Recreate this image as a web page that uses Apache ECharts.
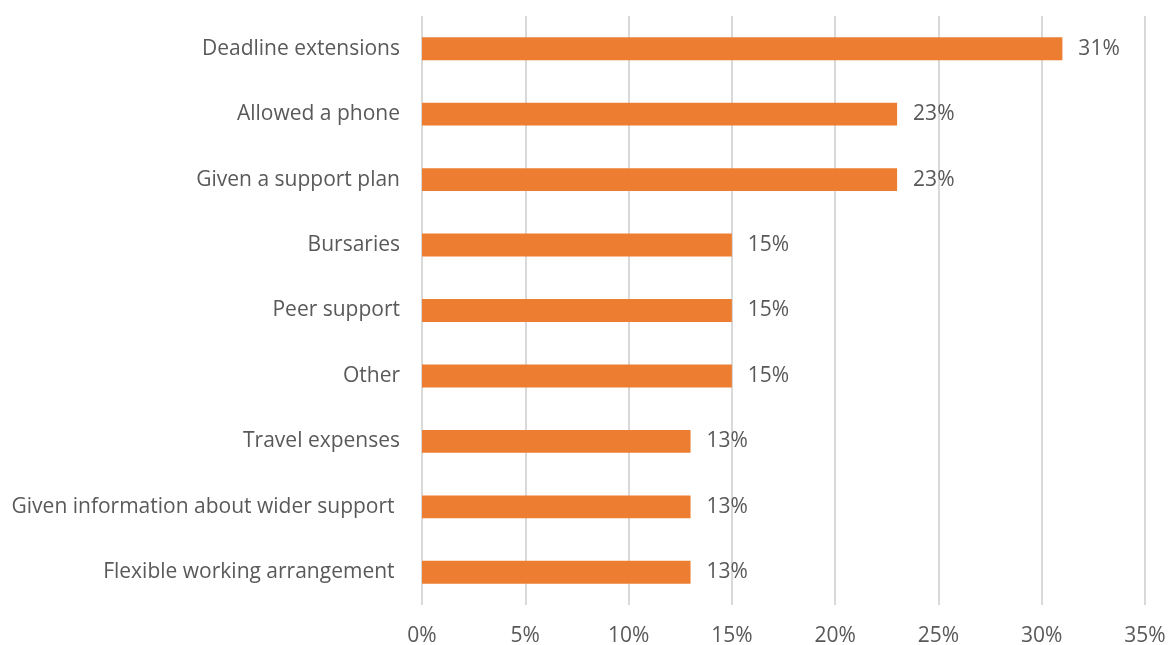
<!DOCTYPE html>
<html>
<head>
<meta charset="utf-8">
<script src="https://cdn.jsdelivr.net/npm/echarts@6/dist/echarts.min.js"></script>
<style>html,body{margin:0;padding:0;background:#fff;}#c{width:1170px;height:645px;}</style>
</head>
<body>
<div id="c"></div>
<script>
const categories = [
  "Deadline extensions",
  "Allowed a phone",
  "Given a support plan",
  "Bursaries",
  "Peer support",
  "Other",
  "Travel expenses",
  "Given information about wider support ",
  "Flexible working arrangement "
];
const values = [31, 23, 23, 15, 15, 15, 13, 13, 13];
const xTicks = { min: 0, max: 35, interval: 5 };

const FONT = '"Open Sans", sans-serif';
const TXT = '#595959';
const chart = echarts.init(document.getElementById('c'), null, { renderer: 'canvas' });
chart.setOption({
  animation: false,
  backgroundColor: '#ffffff',
  grid: { left: 422, right: 25, top: 16, bottom: 40, containLabel: false, outerBoundsMode: 'none' },
  xAxis: {
    type: 'value',
    min: xTicks.min, max: xTicks.max, interval: xTicks.interval,
    axisLine: { show: false },
    axisTick: { show: false },
    splitLine: { show: true, lineStyle: { color: '#D9D9D9', width: 2 } },
    axisLabel: { formatter: '{value}%', color: TXT, fontSize: 21, fontFamily: FONT, margin: 21 }
  },
  yAxis: {
    type: 'category',
    data: categories,
    inverse: true,
    axisLine: { show: false },
    axisTick: { show: false },
    axisLabel: { color: TXT, fontSize: 21, fontFamily: FONT, margin: 22 }
  },
  series: [{
    type: 'bar',
    data: values,
    barWidth: '35%',
    itemStyle: { color: '#ED7D31' },
    label: {
      show: true, position: 'right', distance: 16,
      formatter: '{c}%', color: TXT, fontSize: 21, fontFamily: FONT
    }
  }]
});
</script>
</body>
</html>
